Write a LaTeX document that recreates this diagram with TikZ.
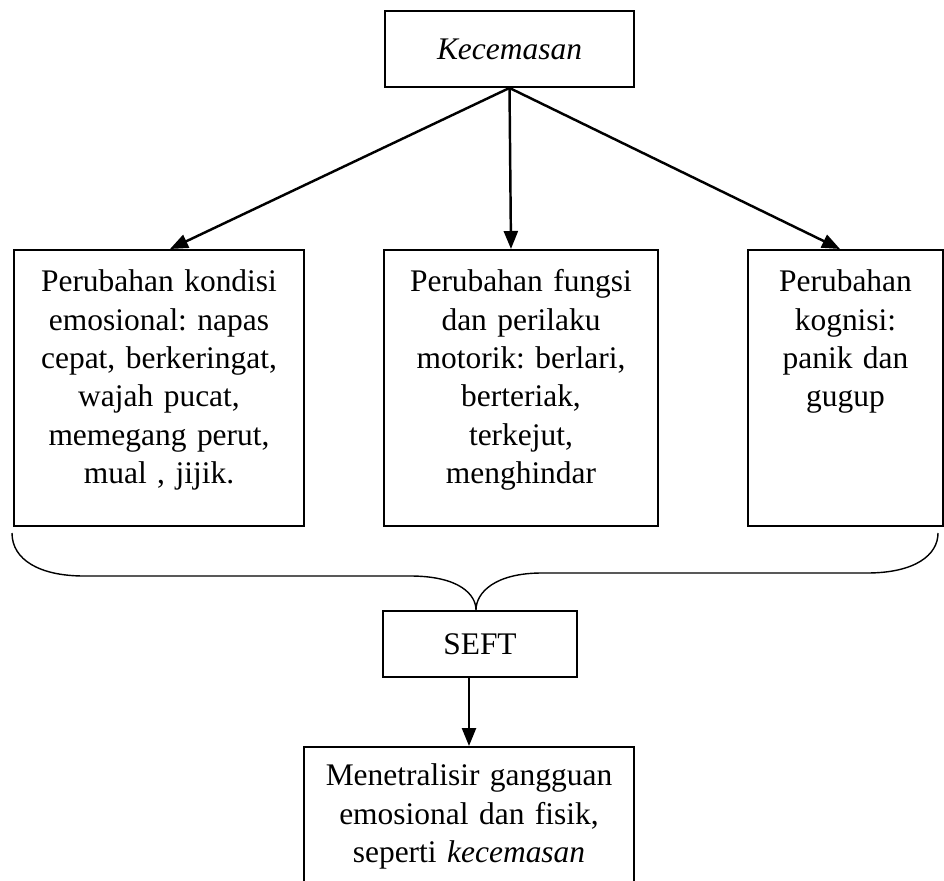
\documentclass[tikz,border=0pt]{standalone}
\usepackage{fontspec}
\setmainfont{Liberation Serif}
\usetikzlibrary{arrows.meta}
\frenchspacing
\tikzset{
  kotak/.style={draw, line width=1.1pt, align=center, inner sep=0pt},
  isi/.style={kotak, anchor=north, text height=0.84cm, text depth=4.68cm},
  panah/.style={line width=1.4pt, -{Triangle[length=0.36cm,width=0.28cm]}}
}
\begin{document}
\begin{tikzpicture}[font=\fontsize{17.9}{21.8}\selectfont]
\useasboundingbox (0,0) rectangle (18.88,17.6);
\clip (0,0) rectangle (18.88,17.6);
\node[kotak, minimum width=4.98cm, minimum height=1.52cm] (kec) at (10.19,16.62) {\itshape Kecemasan};
% the three boxes
\node[isi, text width=5.8cm] (emosi) at (3.18,12.62) {Perubahan kondisi\\emosional: napas\\cepat, berkeringat,\\wajah pucat,\\memegang perut,\\mual , jijik.};
\node[isi, text width=5.48cm] (motor) at (10.42,12.62) {Perubahan fungsi\\dan perilaku\\motorik: berlari,\\berteriak,\\terkejut,\\menghindar};
\node[isi, text width=3.9cm] (kog) at (16.91,12.62) {Perubahan\\kognisi:\\panik dan\\gugup};
\foreach \b/\dx in {emosi/0.22cm, motor/-0.2cm, kog/-0.11cm}
\draw[panah] (kec.south) -- ([xshift=\dx]\b.north);
\node[kotak, minimum width=3.88cm, minimum height=1.32cm] (seft) at (9.6,4.72) {SEFT};
\node[kotak, anchor=north, text width=6.6cm, text height=0.78cm, text depth=2.0cm] (hasil) at (9.38,2.68) {Menetralisir gangguan\\emosional dan fisik,\\seperti \textit{kecemasan}};
% brace under the boxes
\draw[line width=0.8pt] (0.24,6.94) .. controls (0.24,6.4) and (0.8,6.08) .. (1.68,6.08) -- (8.2,6.08)
  .. controls (9.2,6.08) and (9.52,5.7) .. ([xshift=-0.08cm]seft.north)
  .. controls (9.52,5.75) and (9.9,6.14) .. (10.84,6.14) -- (17.34,6.14)
  .. controls (18.3,6.14) and (18.76,6.5) .. (18.76,6.94);
\draw[panah] (hasil.north |- seft.south) -- (hasil.north);
\end{tikzpicture}
\end{document}
